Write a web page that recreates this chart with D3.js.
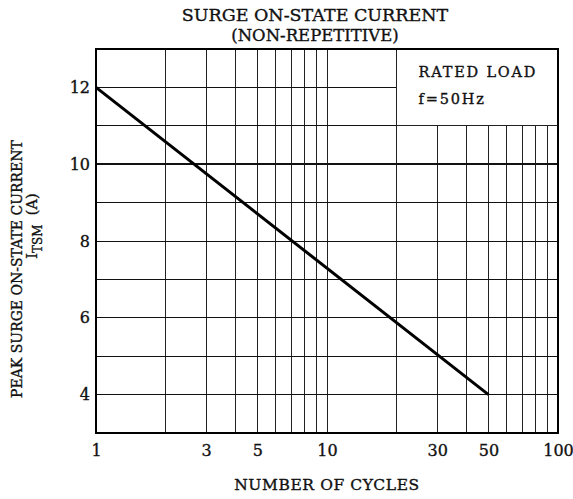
<!DOCTYPE html>
<html><head><meta charset="utf-8">
<script src="https://cdn.jsdelivr.net/npm/d3@7"></script>
<style>
html,body{margin:0;padding:0;background:#fff;}
svg{display:block;}
text{font-family:"DejaVu Serif",serif;fill:#111;stroke:#111;stroke-width:0.35px;}
</style></head>
<body>
<script>
// Data
const seriesCycles = [1, 50];
const seriesCurrent = [12, 4];
const xTickValues = [1, 3, 5, 10, 30, 50, 100];
const yTickValues = [4, 6, 8, 10, 12];
const xGridValues = [2,3,4,5,6,7,8,9,10,20,30,40,50,60,70,80,90];
const yGridValues = [4,5,6,7,8,9,10,11,12];
const titleLines = ["SURGE ON-STATE CURRENT", "(NON-REPETITIVE)"];
const legendLines = ["RATED LOAD", "f=50Hz"];
const xLabel = "NUMBER OF CYCLES";
const yLabel = "PEAK SURGE ON-STATE CURRENT";

const W = 573, H = 499;
const m = {left:96, right:15, top:49, bottom:66};
const iw = W - m.left - m.right, ih = H - m.top - m.bottom;

const svg = d3.select("body").append("svg").attr("width", W).attr("height", H);
const g = svg.append("g").attr("transform", `translate(${m.left},${m.top})`);

const x = d3.scaleLog().domain([1, 100]).range([0, iw]);
const y = d3.scaleLinear().domain([3, 13]).range([ih, 0]);

// gridlines
g.append("g").selectAll("line").data(xGridValues).join("line")
  .attr("x1", d => x(d)).attr("x2", d => x(d))
  .attr("y1", 0).attr("y2", ih)
  .attr("stroke", "#222").attr("stroke-width", 1).attr("shape-rendering","crispEdges");
g.append("g").selectAll("line").data(yGridValues).join("line")
  .attr("x1", 0).attr("x2", iw)
  .attr("y1", d => y(d)).attr("y2", d => y(d))
  .attr("stroke", "#111").attr("stroke-width", d => d === 10 ? 2 : 1).attr("shape-rendering","crispEdges");

// legend box
g.append("rect")
  .attr("x", x(20)).attr("y", y(13)).attr("width", x(100) - x(20)).attr("height", y(11) - y(13))
  .attr("fill", "#fff").attr("stroke", "#222").attr("stroke-width", 1).attr("shape-rendering","crispEdges");
g.selectAll("text.leg").data(legendLines).join("text").attr("class","leg")
  .attr("x", x(20) + 22).attr("y", (d,i) => 28 + i*27)
  .attr("font-size", 14.5).attr("letter-spacing", 1.8).text(d => d);

// frame
g.append("rect").attr("x",0).attr("y",0).attr("width",iw).attr("height",ih)
  .attr("fill","none").attr("stroke","#000").attr("stroke-width",2).attr("shape-rendering","crispEdges");

// axes
const xAxis = d3.axisBottom(x).tickValues(xTickValues).tickFormat(d3.format("d")).tickSize(0).tickPadding(12);
const gx = g.append("g").attr("transform", `translate(0,${ih})`).call(xAxis);
gx.select(".domain").remove();
gx.selectAll("text").attr("font-size", 16).attr("font-family","DejaVu Serif, serif").attr("fill","#111");

const yAxis = d3.axisLeft(y).tickValues(yTickValues).tickSize(0).tickPadding(6);
const gy = g.append("g").call(yAxis);
gy.select(".domain").remove();
gy.selectAll("text").attr("font-size", 16).attr("font-family","DejaVu Serif, serif").attr("fill","#111");

// series line
const pts = seriesCycles.map((c, i) => [c, seriesCurrent[i]]);
g.append("path").datum(pts)
  .attr("d", d3.line().x(d => x(d[0])).y(d => y(d[1])))
  .attr("fill","none").attr("stroke","#000").attr("stroke-width",3);

// titles
svg.selectAll("text.title").data(titleLines).join("text").attr("class","title")
  .attr("x", 315).attr("y", (d,i) => i === 0 ? 21 : 41)
  .attr("text-anchor","middle").attr("font-size", (d,i) => i === 0 ? 17.5 : 16.5).text(d => d);

svg.append("text").attr("x", m.left + iw/2).attr("y", 490)
  .attr("text-anchor","middle").attr("font-size", 15.5).attr("letter-spacing", 0.6).text(xLabel);

const yl = svg.append("g").attr("transform", "translate(22,269) rotate(-90)");
yl.append("text").attr("text-anchor","middle").attr("font-size", 14).text(yLabel);
const t2 = yl.append("text").attr("x", 43).attr("y", 15).attr("text-anchor","middle").attr("font-size", 14.5);
t2.append("tspan").text("I");
t2.append("tspan").attr("font-size", 12).attr("dy", 5).text("TSM");
t2.append("tspan").attr("dy", -5).text("\u00a0\u00a0(A)");
</script>
</body></html>
